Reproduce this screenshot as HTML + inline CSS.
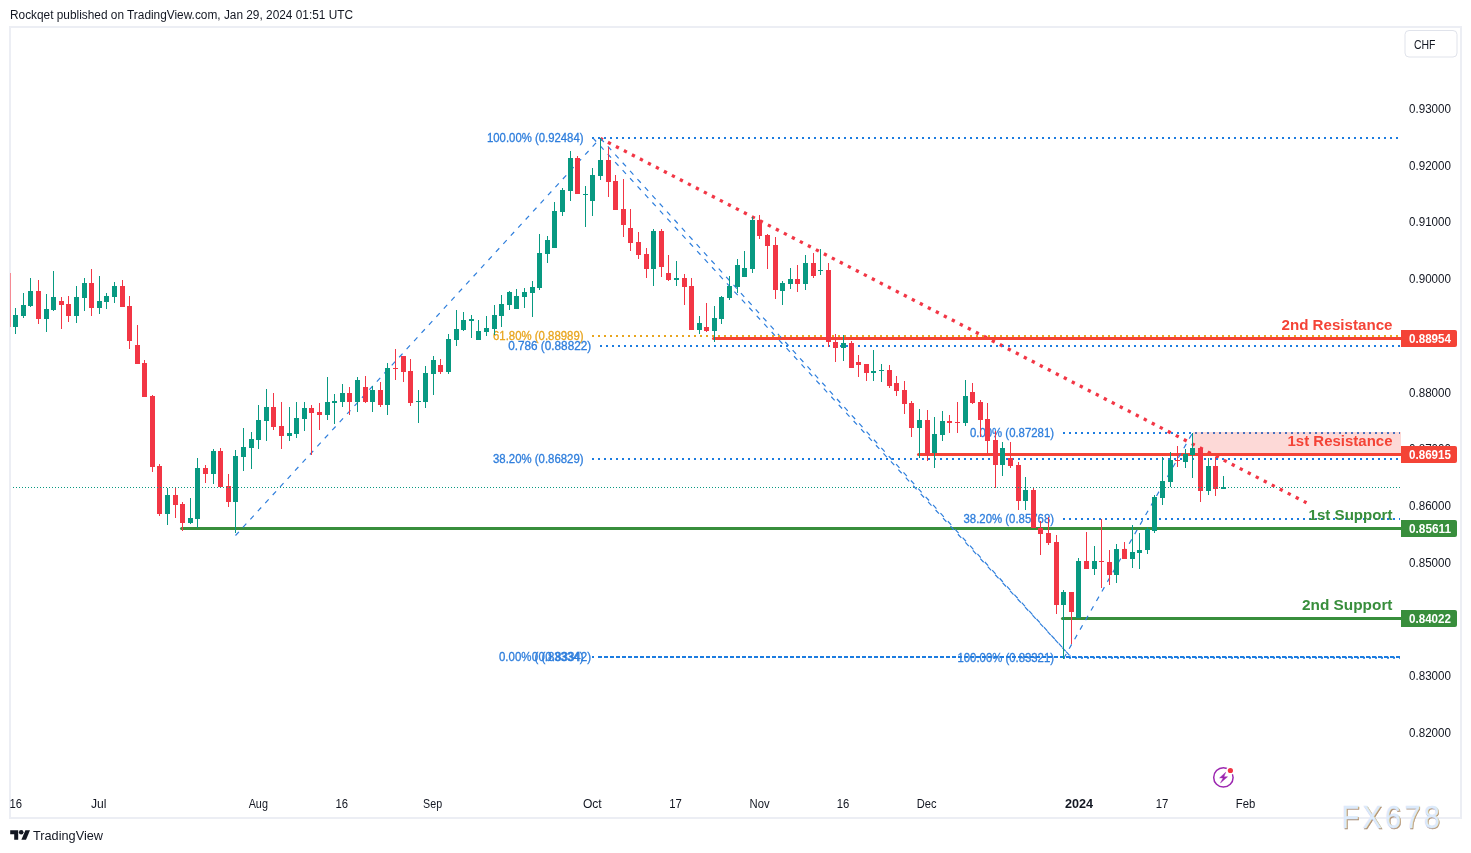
<!DOCTYPE html>
<html><head><meta charset="utf-8"><title>Chart</title>
<style>html,body{margin:0;padding:0;background:#fff;}body{width:1471px;height:853px;overflow:hidden;font-family:"Liberation Sans",sans-serif;}svg{display:block;}text{font-family:"Liberation Sans",sans-serif;}</style>
</head><body>
<svg width="1471" height="853" viewBox="0 0 1471 853">
<rect x="0" y="0" width="1471" height="853" fill="#ffffff"/>
<rect x="9" y="26" width="1453" height="2" fill="#ECEEF4"/>
<rect x="9" y="817" width="1453" height="2" fill="#ECEEF4"/>
<rect x="9" y="26" width="2" height="793" fill="#ECEEF4"/>
<rect x="1460" y="26" width="2" height="793" fill="#ECEEF4"/>
<text x="10" y="19" font-size="12" fill="#131722" text-anchor="start" font-weight="normal" textLength="343" lengthAdjust="spacingAndGlyphs" opacity="0.999">Rockqet published on TradingView.com, Jan 29, 2024 01:51 UTC</text>
<line x1="600.5" y1="138.5" x2="1306.5" y2="502.8" stroke="#F23645" stroke-width="3.3" stroke-dasharray="3.3 5.7" stroke-dashoffset="0.65"/>
<path d="M713.5 337h687.5v3h-687.5a1.5 1.5 0 0 1 0 -3z" fill="#F44336"/>
<path d="M918.5 453h482.5v3h-482.5a1.5 1.5 0 0 1 0 -3z" fill="#F44336"/>
<path d="M181.5 527h1219.5v3h-1219.5a1.5 1.5 0 0 1 0 -3z" fill="#388E3C"/>
<path d="M1062.5 617h338.5v3h-338.5a1.5 1.5 0 0 1 0 -3z" fill="#388E3C"/>
<line x1="235.5" y1="535.5" x2="600.5" y2="138" stroke="#2E7EDC" stroke-width="1.2" stroke-dasharray="5 6" stroke-dashoffset="0"/>
<line x1="592.8" y1="137.8" x2="1070.5" y2="656.5" stroke="#2E7EDC" stroke-width="1.2" stroke-dasharray="5 6" stroke-dashoffset="0"/>
<line x1="600.5" y1="138.3" x2="1070.8" y2="656.8" stroke="#2E7EDC" stroke-width="1.2" stroke-dasharray="5 6" stroke-dashoffset="0"/>
<line x1="1063.7" y1="658.3" x2="1192.5" y2="433" stroke="#2E7EDC" stroke-width="1.2" stroke-dasharray="5 6" stroke-dashoffset="0"/>
<line x1="592" y1="138" x2="1400" y2="138" stroke="#1C7CE0" stroke-width="2" stroke-dasharray="2 4"/>
<line x1="592" y1="336" x2="1400" y2="336" stroke="#E8A51E" stroke-width="2" stroke-dasharray="2 4"/>
<line x1="600" y1="346" x2="1400" y2="346" stroke="#1C7CE0" stroke-width="2" stroke-dasharray="2 4"/>
<line x1="592" y1="459" x2="1400" y2="459" stroke="#1C7CE0" stroke-width="2" stroke-dasharray="2 4"/>
<line x1="592" y1="657" x2="1400" y2="657" stroke="#1C7CE0" stroke-width="2" stroke-dasharray="2 4"/>
<line x1="600" y1="657" x2="1400" y2="657" stroke="#1C7CE0" stroke-width="2" stroke-dasharray="2 4"/>
<line x1="1063" y1="433" x2="1400" y2="433" stroke="#1C7CE0" stroke-width="2" stroke-dasharray="2 4"/>
<line x1="1063" y1="519" x2="1400" y2="519" stroke="#1C7CE0" stroke-width="2" stroke-dasharray="2 4"/>
<line x1="1063" y1="657.8" x2="1400" y2="657.8" stroke="#1C7CE0" stroke-width="2" stroke-dasharray="2 4"/>
<text x="583.5" y="142" font-size="12" fill="#2E7EDC" text-anchor="end" font-weight="normal" textLength="96.5" lengthAdjust="spacingAndGlyphs" stroke="#2E7EDC" stroke-width="0.3" opacity="0.999">100.00% (0.92484)</text>
<text x="583.5" y="340" font-size="12" fill="#E8A51E" text-anchor="end" font-weight="normal" textLength="90.5" lengthAdjust="spacingAndGlyphs" stroke="#E8A51E" stroke-width="0.3" opacity="0.999">61.80% (0.88989)</text>
<text x="591.2" y="350" font-size="12" fill="#2E7EDC" text-anchor="end" font-weight="normal" textLength="83" lengthAdjust="spacingAndGlyphs" stroke="#2E7EDC" stroke-width="0.3" opacity="0.999">0.786 (0.88822)</text>
<text x="583.5" y="463" font-size="12" fill="#2E7EDC" text-anchor="end" font-weight="normal" textLength="90.5" lengthAdjust="spacingAndGlyphs" stroke="#2E7EDC" stroke-width="0.3" opacity="0.999">38.20% (0.86829)</text>
<text x="583.5" y="661" font-size="12" fill="#2E7EDC" text-anchor="end" font-weight="normal" textLength="84.5" lengthAdjust="spacingAndGlyphs" stroke="#2E7EDC" stroke-width="0.3" opacity="0.999">0.00% (0.83334)</text>
<text x="591.2" y="661" font-size="12" fill="#2E7EDC" text-anchor="end" font-weight="normal" textLength="59.5" lengthAdjust="spacingAndGlyphs" stroke="#2E7EDC" stroke-width="0.3" opacity="0.999">0 (0.83342)</text>
<text x="1054" y="437" font-size="12" fill="#2E7EDC" text-anchor="end" font-weight="normal" textLength="84" lengthAdjust="spacingAndGlyphs" stroke="#2E7EDC" stroke-width="0.3" opacity="0.999">0.00% (0.87281)</text>
<text x="1054" y="523" font-size="12" fill="#2E7EDC" text-anchor="end" font-weight="normal" textLength="90.5" lengthAdjust="spacingAndGlyphs" stroke="#2E7EDC" stroke-width="0.3" opacity="0.999">38.20% (0.85768)</text>
<text x="1054" y="662" font-size="12" fill="#2E7EDC" text-anchor="end" font-weight="normal" textLength="96.5" lengthAdjust="spacingAndGlyphs" stroke="#2E7EDC" stroke-width="0.3" opacity="0.999">100.00% (0.83321)</text>
<rect x="1193" y="432" width="208" height="21.5" fill="rgb(244,67,54)" fill-opacity="0.2"/>
<rect x="15" y="308" width="1" height="26" fill="#089981"/>
<rect x="13" y="315" width="5" height="12" fill="#089981"/>
<rect x="23" y="293" width="1" height="25" fill="#089981"/>
<rect x="21" y="305" width="5" height="11" fill="#089981"/>
<rect x="30" y="278" width="1" height="29" fill="#089981"/>
<rect x="28" y="291" width="5" height="15" fill="#089981"/>
<rect x="38" y="280" width="1" height="44" fill="#F23645"/>
<rect x="36" y="291" width="5" height="28" fill="#F23645"/>
<rect x="46" y="294" width="1" height="38" fill="#089981"/>
<rect x="44" y="309" width="5" height="10" fill="#089981"/>
<rect x="53" y="271" width="1" height="40" fill="#089981"/>
<rect x="51" y="297" width="5" height="13" fill="#089981"/>
<rect x="61" y="297" width="1" height="32" fill="#F23645"/>
<rect x="59" y="301" width="5" height="4" fill="#F23645"/>
<rect x="68" y="296" width="1" height="26" fill="#F23645"/>
<rect x="66" y="304" width="5" height="12" fill="#F23645"/>
<rect x="76" y="286" width="1" height="37" fill="#089981"/>
<rect x="74" y="297" width="5" height="19" fill="#089981"/>
<rect x="84" y="278" width="1" height="33" fill="#089981"/>
<rect x="82" y="283" width="5" height="15" fill="#089981"/>
<rect x="91" y="269" width="1" height="47" fill="#F23645"/>
<rect x="89" y="283" width="5" height="25" fill="#F23645"/>
<rect x="99" y="276" width="1" height="38" fill="#089981"/>
<rect x="97" y="301" width="5" height="7" fill="#089981"/>
<rect x="106" y="293" width="1" height="16" fill="#089981"/>
<rect x="104" y="296" width="5" height="6" fill="#089981"/>
<rect x="114" y="282" width="1" height="21" fill="#089981"/>
<rect x="112" y="286" width="5" height="11" fill="#089981"/>
<rect x="122" y="280" width="1" height="27" fill="#F23645"/>
<rect x="120" y="286" width="5" height="21" fill="#F23645"/>
<rect x="129" y="296" width="1" height="53" fill="#F23645"/>
<rect x="127" y="306" width="5" height="35" fill="#F23645"/>
<rect x="137" y="325" width="1" height="39" fill="#F23645"/>
<rect x="135" y="345" width="5" height="19" fill="#F23645"/>
<rect x="144" y="360" width="1" height="37" fill="#F23645"/>
<rect x="142" y="363" width="5" height="34" fill="#F23645"/>
<rect x="152" y="395" width="1" height="77" fill="#F23645"/>
<rect x="150" y="396" width="5" height="71" fill="#F23645"/>
<rect x="159" y="464" width="1" height="52" fill="#F23645"/>
<rect x="157" y="466" width="5" height="48" fill="#F23645"/>
<rect x="167" y="488" width="1" height="37" fill="#089981"/>
<rect x="165" y="495" width="5" height="19" fill="#089981"/>
<rect x="175" y="487" width="1" height="31" fill="#F23645"/>
<rect x="173" y="495" width="5" height="10" fill="#F23645"/>
<rect x="182" y="502" width="1" height="29" fill="#F23645"/>
<rect x="180" y="504" width="5" height="19" fill="#F23645"/>
<rect x="190" y="498" width="1" height="26" fill="#089981"/>
<rect x="188" y="518" width="5" height="5" fill="#089981"/>
<rect x="197" y="458" width="1" height="70" fill="#089981"/>
<rect x="195" y="468" width="5" height="51" fill="#089981"/>
<rect x="205" y="465" width="1" height="18" fill="#F23645"/>
<rect x="203" y="468" width="5" height="6" fill="#F23645"/>
<rect x="213" y="449" width="1" height="35" fill="#089981"/>
<rect x="211" y="451" width="5" height="23" fill="#089981"/>
<rect x="220" y="448" width="1" height="39" fill="#F23645"/>
<rect x="218" y="451" width="5" height="36" fill="#F23645"/>
<rect x="228" y="474" width="1" height="33" fill="#F23645"/>
<rect x="226" y="486" width="5" height="16" fill="#F23645"/>
<rect x="235" y="450" width="1" height="83" fill="#089981"/>
<rect x="233" y="456" width="5" height="46" fill="#089981"/>
<rect x="243" y="428" width="1" height="43" fill="#089981"/>
<rect x="241" y="447" width="5" height="10" fill="#089981"/>
<rect x="251" y="432" width="1" height="37" fill="#089981"/>
<rect x="249" y="439" width="5" height="9" fill="#089981"/>
<rect x="258" y="405" width="1" height="44" fill="#089981"/>
<rect x="256" y="420" width="5" height="20" fill="#089981"/>
<rect x="266" y="389" width="1" height="52" fill="#089981"/>
<rect x="264" y="407" width="5" height="14" fill="#089981"/>
<rect x="273" y="393" width="1" height="37" fill="#F23645"/>
<rect x="271" y="407" width="5" height="20" fill="#F23645"/>
<rect x="281" y="402" width="1" height="47" fill="#F23645"/>
<rect x="279" y="426" width="5" height="10" fill="#F23645"/>
<rect x="289" y="407" width="1" height="34" fill="#089981"/>
<rect x="287" y="433" width="5" height="3" fill="#089981"/>
<rect x="296" y="402" width="1" height="36" fill="#089981"/>
<rect x="294" y="418" width="5" height="16" fill="#089981"/>
<rect x="304" y="402" width="1" height="29" fill="#089981"/>
<rect x="302" y="408" width="5" height="11" fill="#089981"/>
<rect x="311" y="405" width="1" height="50" fill="#F23645"/>
<rect x="309" y="408" width="5" height="5" fill="#F23645"/>
<rect x="319" y="403" width="1" height="27" fill="#F23645"/>
<rect x="317" y="412" width="5" height="3" fill="#F23645"/>
<rect x="327" y="377" width="1" height="43" fill="#089981"/>
<rect x="325" y="402" width="5" height="13" fill="#089981"/>
<rect x="334" y="394" width="1" height="30" fill="#089981"/>
<rect x="332" y="401" width="5" height="2" fill="#089981"/>
<rect x="342" y="384" width="1" height="23" fill="#089981"/>
<rect x="340" y="393" width="5" height="9" fill="#089981"/>
<rect x="349" y="387" width="1" height="28" fill="#F23645"/>
<rect x="347" y="393" width="5" height="9" fill="#F23645"/>
<rect x="357" y="377" width="1" height="35" fill="#089981"/>
<rect x="355" y="380" width="5" height="22" fill="#089981"/>
<rect x="365" y="376" width="1" height="27" fill="#F23645"/>
<rect x="363" y="387" width="5" height="15" fill="#F23645"/>
<rect x="372" y="386" width="1" height="26" fill="#089981"/>
<rect x="370" y="390" width="5" height="12" fill="#089981"/>
<rect x="380" y="382" width="1" height="25" fill="#F23645"/>
<rect x="378" y="390" width="5" height="15" fill="#F23645"/>
<rect x="387" y="363" width="1" height="52" fill="#089981"/>
<rect x="385" y="368" width="5" height="37" fill="#089981"/>
<rect x="395" y="349" width="1" height="31" fill="#F23645"/>
<rect x="393" y="368" width="5" height="1" fill="#F23645"/>
<rect x="403" y="356" width="1" height="26" fill="#F23645"/>
<rect x="401" y="356" width="5" height="16" fill="#F23645"/>
<rect x="410" y="359" width="1" height="47" fill="#F23645"/>
<rect x="408" y="371" width="5" height="32" fill="#F23645"/>
<rect x="418" y="390" width="1" height="33" fill="#089981"/>
<rect x="416" y="401" width="5" height="1" fill="#089981"/>
<rect x="425" y="366" width="1" height="42" fill="#089981"/>
<rect x="423" y="373" width="5" height="29" fill="#089981"/>
<rect x="433" y="356" width="1" height="39" fill="#089981"/>
<rect x="431" y="360" width="5" height="14" fill="#089981"/>
<rect x="440" y="359" width="1" height="15" fill="#F23645"/>
<rect x="438" y="365" width="5" height="7" fill="#F23645"/>
<rect x="448" y="334" width="1" height="40" fill="#089981"/>
<rect x="446" y="339" width="5" height="33" fill="#089981"/>
<rect x="456" y="310" width="1" height="36" fill="#089981"/>
<rect x="454" y="329" width="5" height="11" fill="#089981"/>
<rect x="463" y="312" width="1" height="19" fill="#089981"/>
<rect x="461" y="320" width="5" height="10" fill="#089981"/>
<rect x="471" y="315" width="1" height="23" fill="#089981"/>
<rect x="469" y="319" width="5" height="2" fill="#089981"/>
<rect x="478" y="320" width="1" height="20" fill="#089981"/>
<rect x="476" y="331" width="5" height="9" fill="#089981"/>
<rect x="486" y="316" width="1" height="20" fill="#089981"/>
<rect x="484" y="328" width="5" height="4" fill="#089981"/>
<rect x="494" y="305" width="1" height="30" fill="#089981"/>
<rect x="492" y="315" width="5" height="14" fill="#089981"/>
<rect x="501" y="295" width="1" height="32" fill="#089981"/>
<rect x="499" y="304" width="5" height="12" fill="#089981"/>
<rect x="509" y="291" width="1" height="19" fill="#089981"/>
<rect x="507" y="292" width="5" height="13" fill="#089981"/>
<rect x="516" y="289" width="1" height="20" fill="#089981"/>
<rect x="514" y="296" width="5" height="13" fill="#089981"/>
<rect x="524" y="288" width="1" height="20" fill="#089981"/>
<rect x="522" y="292" width="5" height="5" fill="#089981"/>
<rect x="532" y="281" width="1" height="36" fill="#089981"/>
<rect x="530" y="287" width="5" height="6" fill="#089981"/>
<rect x="539" y="234" width="1" height="56" fill="#089981"/>
<rect x="537" y="253" width="5" height="35" fill="#089981"/>
<rect x="547" y="236" width="1" height="27" fill="#089981"/>
<rect x="545" y="240" width="5" height="14" fill="#089981"/>
<rect x="554" y="202" width="1" height="46" fill="#089981"/>
<rect x="552" y="211" width="5" height="37" fill="#089981"/>
<rect x="562" y="188" width="1" height="28" fill="#089981"/>
<rect x="560" y="190" width="5" height="22" fill="#089981"/>
<rect x="570" y="151" width="1" height="50" fill="#089981"/>
<rect x="568" y="158" width="5" height="33" fill="#089981"/>
<rect x="577" y="156" width="1" height="38" fill="#F23645"/>
<rect x="575" y="158" width="5" height="36" fill="#F23645"/>
<rect x="585" y="186" width="1" height="41" fill="#089981"/>
<rect x="583" y="194" width="5" height="1" fill="#089981"/>
<rect x="592" y="168" width="1" height="48" fill="#089981"/>
<rect x="590" y="175" width="5" height="26" fill="#089981"/>
<rect x="600" y="138" width="1" height="42" fill="#089981"/>
<rect x="598" y="160" width="5" height="16" fill="#089981"/>
<rect x="608" y="147" width="1" height="50" fill="#F23645"/>
<rect x="606" y="160" width="5" height="22" fill="#F23645"/>
<rect x="615" y="175" width="1" height="35" fill="#F23645"/>
<rect x="613" y="181" width="5" height="29" fill="#F23645"/>
<rect x="623" y="179" width="1" height="58" fill="#F23645"/>
<rect x="621" y="209" width="5" height="16" fill="#F23645"/>
<rect x="630" y="209" width="1" height="42" fill="#F23645"/>
<rect x="628" y="228" width="5" height="15" fill="#F23645"/>
<rect x="638" y="232" width="1" height="27" fill="#F23645"/>
<rect x="636" y="242" width="5" height="13" fill="#F23645"/>
<rect x="646" y="248" width="1" height="30" fill="#F23645"/>
<rect x="644" y="254" width="5" height="15" fill="#F23645"/>
<rect x="653" y="229" width="1" height="57" fill="#089981"/>
<rect x="651" y="231" width="5" height="38" fill="#089981"/>
<rect x="661" y="229" width="1" height="48" fill="#F23645"/>
<rect x="659" y="231" width="5" height="36" fill="#F23645"/>
<rect x="668" y="255" width="1" height="26" fill="#F23645"/>
<rect x="666" y="273" width="5" height="7" fill="#F23645"/>
<rect x="676" y="261" width="1" height="25" fill="#089981"/>
<rect x="674" y="278" width="5" height="2" fill="#089981"/>
<rect x="684" y="274" width="1" height="31" fill="#F23645"/>
<rect x="682" y="278" width="5" height="9" fill="#F23645"/>
<rect x="691" y="278" width="1" height="52" fill="#F23645"/>
<rect x="689" y="286" width="5" height="44" fill="#F23645"/>
<rect x="699" y="316" width="1" height="18" fill="#089981"/>
<rect x="697" y="323" width="5" height="7" fill="#089981"/>
<rect x="706" y="303" width="1" height="29" fill="#F23645"/>
<rect x="704" y="327" width="5" height="4" fill="#F23645"/>
<rect x="714" y="306" width="1" height="36" fill="#089981"/>
<rect x="712" y="318" width="5" height="13" fill="#089981"/>
<rect x="721" y="296" width="1" height="28" fill="#089981"/>
<rect x="719" y="297" width="5" height="22" fill="#089981"/>
<rect x="729" y="276" width="1" height="24" fill="#089981"/>
<rect x="727" y="286" width="5" height="12" fill="#089981"/>
<rect x="737" y="259" width="1" height="34" fill="#089981"/>
<rect x="735" y="265" width="5" height="22" fill="#089981"/>
<rect x="744" y="251" width="1" height="26" fill="#089981"/>
<rect x="742" y="268" width="5" height="9" fill="#089981"/>
<rect x="752" y="217" width="1" height="56" fill="#089981"/>
<rect x="750" y="220" width="5" height="49" fill="#089981"/>
<rect x="759" y="215" width="1" height="24" fill="#F23645"/>
<rect x="757" y="220" width="5" height="16" fill="#F23645"/>
<rect x="767" y="234" width="1" height="35" fill="#F23645"/>
<rect x="765" y="235" width="5" height="11" fill="#F23645"/>
<rect x="775" y="237" width="1" height="62" fill="#F23645"/>
<rect x="773" y="245" width="5" height="45" fill="#F23645"/>
<rect x="782" y="281" width="1" height="24" fill="#089981"/>
<rect x="780" y="283" width="5" height="8" fill="#089981"/>
<rect x="790" y="268" width="1" height="21" fill="#089981"/>
<rect x="788" y="279" width="5" height="5" fill="#089981"/>
<rect x="797" y="265" width="1" height="27" fill="#F23645"/>
<rect x="795" y="279" width="5" height="5" fill="#F23645"/>
<rect x="805" y="255" width="1" height="35" fill="#089981"/>
<rect x="803" y="263" width="5" height="21" fill="#089981"/>
<rect x="813" y="253" width="1" height="25" fill="#F23645"/>
<rect x="811" y="263" width="5" height="13" fill="#F23645"/>
<rect x="820" y="249" width="1" height="26" fill="#089981"/>
<rect x="818" y="270" width="5" height="1" fill="#089981"/>
<rect x="828" y="263" width="1" height="84" fill="#F23645"/>
<rect x="826" y="270" width="5" height="72" fill="#F23645"/>
<rect x="835" y="334" width="1" height="28" fill="#F23645"/>
<rect x="833" y="342" width="5" height="6" fill="#F23645"/>
<rect x="843" y="335" width="1" height="26" fill="#089981"/>
<rect x="841" y="343" width="5" height="5" fill="#089981"/>
<rect x="851" y="341" width="1" height="27" fill="#F23645"/>
<rect x="849" y="343" width="5" height="25" fill="#F23645"/>
<rect x="858" y="355" width="1" height="22" fill="#F23645"/>
<rect x="856" y="362" width="5" height="3" fill="#F23645"/>
<rect x="866" y="364" width="1" height="17" fill="#F23645"/>
<rect x="864" y="364" width="5" height="9" fill="#F23645"/>
<rect x="873" y="350" width="1" height="31" fill="#089981"/>
<rect x="871" y="371" width="5" height="2" fill="#089981"/>
<rect x="881" y="364" width="1" height="18" fill="#089981"/>
<rect x="879" y="370" width="5" height="1" fill="#089981"/>
<rect x="889" y="365" width="1" height="23" fill="#F23645"/>
<rect x="887" y="370" width="5" height="16" fill="#F23645"/>
<rect x="896" y="376" width="1" height="20" fill="#F23645"/>
<rect x="894" y="383" width="5" height="8" fill="#F23645"/>
<rect x="904" y="381" width="1" height="33" fill="#F23645"/>
<rect x="902" y="390" width="5" height="14" fill="#F23645"/>
<rect x="911" y="401" width="1" height="36" fill="#F23645"/>
<rect x="909" y="403" width="5" height="25" fill="#F23645"/>
<rect x="919" y="409" width="1" height="49" fill="#089981"/>
<rect x="917" y="420" width="5" height="8" fill="#089981"/>
<rect x="927" y="410" width="1" height="51" fill="#F23645"/>
<rect x="925" y="420" width="5" height="35" fill="#F23645"/>
<rect x="934" y="417" width="1" height="51" fill="#089981"/>
<rect x="932" y="434" width="5" height="19" fill="#089981"/>
<rect x="942" y="411" width="1" height="30" fill="#089981"/>
<rect x="940" y="421" width="5" height="14" fill="#089981"/>
<rect x="949" y="415" width="1" height="18" fill="#F23645"/>
<rect x="947" y="421" width="5" height="2" fill="#F23645"/>
<rect x="957" y="402" width="1" height="31" fill="#F23645"/>
<rect x="955" y="422" width="5" height="1" fill="#F23645"/>
<rect x="965" y="380" width="1" height="46" fill="#089981"/>
<rect x="963" y="396" width="5" height="27" fill="#089981"/>
<rect x="972" y="383" width="1" height="21" fill="#F23645"/>
<rect x="970" y="392" width="5" height="11" fill="#F23645"/>
<rect x="980" y="400" width="1" height="37" fill="#F23645"/>
<rect x="978" y="402" width="5" height="18" fill="#F23645"/>
<rect x="987" y="403" width="1" height="51" fill="#F23645"/>
<rect x="985" y="419" width="5" height="22" fill="#F23645"/>
<rect x="995" y="431" width="1" height="57" fill="#F23645"/>
<rect x="993" y="440" width="5" height="25" fill="#F23645"/>
<rect x="1002" y="442" width="1" height="34" fill="#089981"/>
<rect x="1000" y="448" width="5" height="17" fill="#089981"/>
<rect x="1010" y="442" width="1" height="26" fill="#F23645"/>
<rect x="1008" y="458" width="5" height="8" fill="#F23645"/>
<rect x="1018" y="462" width="1" height="48" fill="#F23645"/>
<rect x="1016" y="465" width="5" height="36" fill="#F23645"/>
<rect x="1025" y="477" width="1" height="33" fill="#089981"/>
<rect x="1023" y="490" width="5" height="11" fill="#089981"/>
<rect x="1033" y="487" width="1" height="41" fill="#F23645"/>
<rect x="1031" y="490" width="5" height="38" fill="#F23645"/>
<rect x="1040" y="521" width="1" height="34" fill="#F23645"/>
<rect x="1038" y="528" width="5" height="6" fill="#F23645"/>
<rect x="1048" y="517" width="1" height="28" fill="#F23645"/>
<rect x="1046" y="533" width="5" height="10" fill="#F23645"/>
<rect x="1056" y="535" width="1" height="79" fill="#F23645"/>
<rect x="1054" y="542" width="5" height="63" fill="#F23645"/>
<rect x="1063" y="590" width="1" height="69" fill="#089981"/>
<rect x="1061" y="592" width="5" height="13" fill="#089981"/>
<rect x="1071" y="592" width="1" height="52" fill="#F23645"/>
<rect x="1069" y="592" width="5" height="20" fill="#F23645"/>
<rect x="1078" y="558" width="1" height="60" fill="#089981"/>
<rect x="1076" y="561" width="5" height="57" fill="#089981"/>
<rect x="1086" y="532" width="1" height="37" fill="#F23645"/>
<rect x="1084" y="561" width="5" height="8" fill="#F23645"/>
<rect x="1094" y="546" width="1" height="29" fill="#089981"/>
<rect x="1092" y="561" width="5" height="8" fill="#089981"/>
<rect x="1101" y="519" width="1" height="69" fill="#F23645"/>
<rect x="1099" y="561" width="5" height="1" fill="#F23645"/>
<rect x="1109" y="550" width="1" height="35" fill="#F23645"/>
<rect x="1107" y="562" width="5" height="13" fill="#F23645"/>
<rect x="1116" y="544" width="1" height="39" fill="#089981"/>
<rect x="1114" y="549" width="5" height="26" fill="#089981"/>
<rect x="1124" y="542" width="1" height="17" fill="#F23645"/>
<rect x="1122" y="549" width="5" height="10" fill="#F23645"/>
<rect x="1132" y="525" width="1" height="43" fill="#089981"/>
<rect x="1130" y="552" width="5" height="7" fill="#089981"/>
<rect x="1139" y="533" width="1" height="36" fill="#089981"/>
<rect x="1137" y="550" width="5" height="3" fill="#089981"/>
<rect x="1147" y="527" width="1" height="27" fill="#089981"/>
<rect x="1145" y="529" width="5" height="21" fill="#089981"/>
<rect x="1154" y="495" width="1" height="38" fill="#089981"/>
<rect x="1152" y="497" width="5" height="34" fill="#089981"/>
<rect x="1162" y="457" width="1" height="48" fill="#089981"/>
<rect x="1160" y="481" width="5" height="17" fill="#089981"/>
<rect x="1170" y="452" width="1" height="35" fill="#089981"/>
<rect x="1168" y="460" width="5" height="22" fill="#089981"/>
<rect x="1177" y="446" width="1" height="21" fill="#F23645"/>
<rect x="1175" y="460" width="5" height="1" fill="#F23645"/>
<rect x="1185" y="449" width="1" height="19" fill="#089981"/>
<rect x="1183" y="454" width="5" height="8" fill="#089981"/>
<rect x="1192" y="433" width="1" height="45" fill="#089981"/>
<rect x="1190" y="448" width="5" height="7" fill="#089981"/>
<rect x="1200" y="447" width="1" height="55" fill="#F23645"/>
<rect x="1198" y="448" width="5" height="43" fill="#F23645"/>
<rect x="1208" y="458" width="1" height="37" fill="#089981"/>
<rect x="1206" y="466" width="5" height="25" fill="#089981"/>
<rect x="1215" y="457" width="1" height="39" fill="#F23645"/>
<rect x="1213" y="466" width="5" height="23" fill="#F23645"/>
<rect x="1223" y="476" width="1" height="13" fill="#089981"/>
<rect x="1221" y="487" width="5" height="2" fill="#089981"/>
<rect x="10" y="273" width="1" height="54" fill="#F58A94"/>
<line x1="13" y1="487.5" x2="1401" y2="487.5" stroke="#089981" stroke-width="1" stroke-dasharray="1 2"/>
<text x="1392.5" y="330" font-size="15.2" fill="#F44336" text-anchor="end" font-weight="bold" textLength="111" lengthAdjust="spacingAndGlyphs" opacity="0.999">2nd Resistance</text>
<text x="1392.5" y="446" font-size="15.2" fill="#F44336" text-anchor="end" font-weight="bold" textLength="105" lengthAdjust="spacingAndGlyphs" opacity="0.999">1st Resistance</text>
<text x="1392.5" y="519.5" font-size="15.2" fill="#388E3C" text-anchor="end" font-weight="bold" textLength="84" lengthAdjust="spacingAndGlyphs" opacity="0.999">1st Support</text>
<text x="1392.5" y="609.5" font-size="15.2" fill="#388E3C" text-anchor="end" font-weight="bold" textLength="90.5" lengthAdjust="spacingAndGlyphs" opacity="0.999">2nd Support</text>
<text x="1409" y="113.3" font-size="12" fill="#131722" text-anchor="start" font-weight="normal" textLength="42" lengthAdjust="spacingAndGlyphs" opacity="0.999">0.93000</text>
<text x="1409" y="169.8" font-size="12" fill="#131722" text-anchor="start" font-weight="normal" textLength="42" lengthAdjust="spacingAndGlyphs" opacity="0.999">0.92000</text>
<text x="1409" y="226.3" font-size="12" fill="#131722" text-anchor="start" font-weight="normal" textLength="42" lengthAdjust="spacingAndGlyphs" opacity="0.999">0.91000</text>
<text x="1409" y="283.3" font-size="12" fill="#131722" text-anchor="start" font-weight="normal" textLength="42" lengthAdjust="spacingAndGlyphs" opacity="0.999">0.90000</text>
<text x="1409" y="396.8" font-size="12" fill="#131722" text-anchor="start" font-weight="normal" textLength="42" lengthAdjust="spacingAndGlyphs" opacity="0.999">0.88000</text>
<text x="1409" y="453.3" font-size="12" fill="#131722" text-anchor="start" font-weight="normal" textLength="42" lengthAdjust="spacingAndGlyphs" opacity="0.999">0.87000</text>
<text x="1409" y="510.3" font-size="12" fill="#131722" text-anchor="start" font-weight="normal" textLength="42" lengthAdjust="spacingAndGlyphs" opacity="0.999">0.86000</text>
<text x="1409" y="566.8" font-size="12" fill="#131722" text-anchor="start" font-weight="normal" textLength="42" lengthAdjust="spacingAndGlyphs" opacity="0.999">0.85000</text>
<text x="1409" y="680.3" font-size="12" fill="#131722" text-anchor="start" font-weight="normal" textLength="42" lengthAdjust="spacingAndGlyphs" opacity="0.999">0.83000</text>
<text x="1409" y="736.8" font-size="12" fill="#131722" text-anchor="start" font-weight="normal" textLength="42" lengthAdjust="spacingAndGlyphs" opacity="0.999">0.82000</text>
<path d="M1401 330.0h54a2 2 0 0 1 2 2v13a2 2 0 0 1-2 2h-54z" fill="#F44336"/>
<text x="1409" y="342.8" font-size="12" fill="#ffffff" text-anchor="start" font-weight="bold" textLength="42" lengthAdjust="spacingAndGlyphs" opacity="0.999">0.88954</text>
<path d="M1401 446.0h54a2 2 0 0 1 2 2v13a2 2 0 0 1-2 2h-54z" fill="#F44336"/>
<text x="1409" y="458.8" font-size="12" fill="#ffffff" text-anchor="start" font-weight="bold" textLength="42" lengthAdjust="spacingAndGlyphs" opacity="0.999">0.86915</text>
<path d="M1401 520.0h54a2 2 0 0 1 2 2v13a2 2 0 0 1-2 2h-54z" fill="#388E3C"/>
<text x="1409" y="532.8" font-size="12" fill="#ffffff" text-anchor="start" font-weight="bold" textLength="42" lengthAdjust="spacingAndGlyphs" opacity="0.999">0.85611</text>
<path d="M1401 610.0h54a2 2 0 0 1 2 2v13a2 2 0 0 1-2 2h-54z" fill="#388E3C"/>
<text x="1409" y="622.8" font-size="12" fill="#ffffff" text-anchor="start" font-weight="bold" textLength="42" lengthAdjust="spacingAndGlyphs" opacity="0.999">0.84022</text>
<rect x="1405" y="30.5" width="52" height="26.5" rx="4" ry="4" fill="#fff" stroke="#E0E3EB" stroke-width="1"/>
<text x="1414" y="49" font-size="12.5" fill="#131722" text-anchor="start" font-weight="normal" textLength="21.5" lengthAdjust="spacingAndGlyphs" opacity="0.999">CHF</text>
<text x="98.7" y="808" font-size="12" fill="#131722" text-anchor="middle" font-weight="normal" textLength="15.5" lengthAdjust="spacingAndGlyphs" opacity="0.999">Jul</text>
<text x="258.3" y="808" font-size="12" fill="#131722" text-anchor="middle" font-weight="normal" textLength="19.3" lengthAdjust="spacingAndGlyphs" opacity="0.999">Aug</text>
<text x="341.8" y="808" font-size="12" fill="#131722" text-anchor="middle" font-weight="normal" textLength="12.6" lengthAdjust="spacingAndGlyphs" opacity="0.999">16</text>
<text x="432.6" y="808" font-size="12" fill="#131722" text-anchor="middle" font-weight="normal" textLength="19" lengthAdjust="spacingAndGlyphs" opacity="0.999">Sep</text>
<text x="592.3" y="808" font-size="12" fill="#131722" text-anchor="middle" font-weight="normal" textLength="18.8" lengthAdjust="spacingAndGlyphs" opacity="0.999">Oct</text>
<text x="675.6" y="808" font-size="12" fill="#131722" text-anchor="middle" font-weight="normal" textLength="12.6" lengthAdjust="spacingAndGlyphs" opacity="0.999">17</text>
<text x="759.6" y="808" font-size="12" fill="#131722" text-anchor="middle" font-weight="normal" textLength="20" lengthAdjust="spacingAndGlyphs" opacity="0.999">Nov</text>
<text x="843" y="808" font-size="12" fill="#131722" text-anchor="middle" font-weight="normal" textLength="12.6" lengthAdjust="spacingAndGlyphs" opacity="0.999">16</text>
<text x="926.6" y="808" font-size="12" fill="#131722" text-anchor="middle" font-weight="normal" textLength="19.8" lengthAdjust="spacingAndGlyphs" opacity="0.999">Dec</text>
<text x="1162" y="808" font-size="12" fill="#131722" text-anchor="middle" font-weight="normal" textLength="12.6" lengthAdjust="spacingAndGlyphs" opacity="0.999">17</text>
<text x="1245.6" y="808" font-size="12" fill="#131722" text-anchor="middle" font-weight="normal" textLength="19.5" lengthAdjust="spacingAndGlyphs" opacity="0.999">Feb</text>
<text x="9.5" y="808" font-size="12" fill="#131722" text-anchor="start" font-weight="normal" textLength="12.6" lengthAdjust="spacingAndGlyphs" opacity="0.999">16</text>
<text x="1079" y="808" font-size="12" fill="#131722" text-anchor="middle" font-weight="bold" textLength="28.1" lengthAdjust="spacingAndGlyphs" opacity="0.999">2024</text>
<g>
<circle cx="1223.4" cy="777.4" r="9.7" fill="none" stroke="#9C27B0" stroke-width="1.5"/>
<path d="M1225.7 772.3L1219.6 777.9H1223.1L1220.5 782.9L1227.5 776.8H1223.9Z" fill="#9C27B0" stroke="#9C27B0" stroke-width="0.45" stroke-linejoin="round"/>
<circle cx="1230.4" cy="770.5" r="4.3" fill="#fff"/>
<circle cx="1230.4" cy="770.5" r="2.6" fill="#F23645"/>
</g>
<defs><filter id="wb" x="-10%" y="-20%" width="120%" height="140%"><feGaussianBlur stdDeviation="0.45"/></filter></defs>
<g transform="translate(1341.6,827.8) scale(0.92,1)">
<text x="1" y="0.9" font-size="31.5" fill="#A88A72" stroke="#A88A72" stroke-width="0.4" letter-spacing="3.5" filter="url(#wb)">FX678</text>
<text x="0" y="0" font-size="31.5" fill="#DCEAFB" stroke="#DCEAFB" stroke-width="0.5" letter-spacing="3.5">FX678</text>
</g>
<path d="M10.2 830.2h8v9.6h-4v-5.6h-4z" fill="#131722"/>
<circle cx="21.2" cy="832.3" r="2.3" fill="#131722"/>
<path d="M25.4 830.2h4.6l-4 9.6h-4.6z" fill="#131722"/>
<text x="33" y="840" font-size="13.5" fill="#131722" text-anchor="start" font-weight="normal" textLength="70" lengthAdjust="spacingAndGlyphs" opacity="0.999">TradingView</text>
</svg>
</body></html>
